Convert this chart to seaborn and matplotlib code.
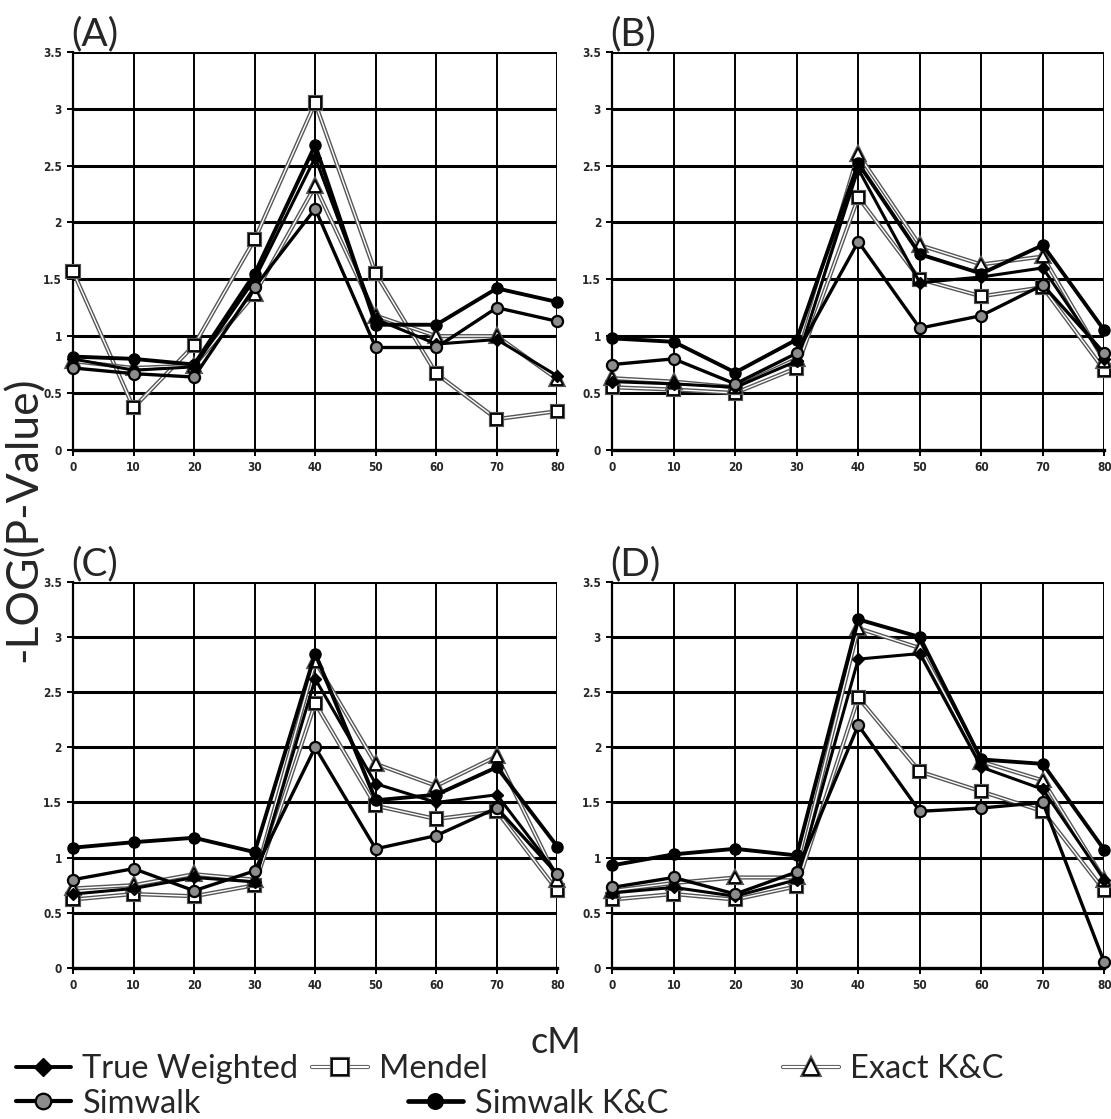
import matplotlib
matplotlib.use("Agg")
import matplotlib.pyplot as plt
import matplotlib.patheffects as pe
from matplotlib.lines import Line2D
import seaborn as sns
import pandas as pd

# Marker positions along the chromosome (cM)
cm = [0, 10, 20, 30, 40, 50, 60, 70, 80]
panels = ["(A)", "(B)", "(C)", "(D)"]

# -LOG(P-value) per method, one row per panel (A, B, C, D)
true_weighted = [
    [0.80, 0.70, 0.73, 1.50, 2.57, 1.15, 0.93, 0.97, 0.65],
    [0.60, 0.58, 0.55, 0.78, 2.47, 1.47, 1.52, 1.60, 0.80],
    [0.67, 0.72, 0.82, 0.78, 2.62, 1.67, 1.50, 1.57, 0.85],
    [0.68, 0.73, 0.65, 0.80, 2.80, 2.85, 1.82, 1.62, 0.80],
]
mendel = [
    [1.57, 0.37, 0.92, 1.85, 3.05, 1.55, 0.67, 0.27, 0.34],
    [0.55, 0.53, 0.50, 0.72, 2.22, 1.50, 1.35, 1.43, 0.70],
    [0.62, 0.67, 0.65, 0.75, 2.40, 1.47, 1.35, 1.42, 0.70],
    [0.62, 0.67, 0.62, 0.74, 2.45, 1.78, 1.60, 1.42, 0.70],
]
exact_kc = [
    [0.78, 0.72, 0.74, 1.37, 2.32, 1.18, 1.00, 1.00, 0.62],
    [0.63, 0.60, 0.55, 0.80, 2.60, 1.80, 1.63, 1.70, 0.78],
    [0.72, 0.75, 0.85, 0.80, 2.78, 1.85, 1.65, 1.92, 0.80],
    [0.70, 0.77, 0.82, 0.82, 3.08, 2.90, 1.87, 1.70, 0.80],
]
simwalk = [
    [0.72, 0.67, 0.64, 1.43, 2.12, 0.90, 0.90, 1.25, 1.13],
    [0.75, 0.80, 0.58, 0.85, 1.83, 1.07, 1.18, 1.45, 0.85],
    [0.80, 0.90, 0.70, 0.88, 2.00, 1.08, 1.20, 1.45, 0.85],
    [0.73, 0.82, 0.67, 0.87, 2.20, 1.42, 1.45, 1.50, 0.05],
]
simwalk_kc = [
    [0.82, 0.80, 0.75, 1.55, 2.68, 1.10, 1.10, 1.42, 1.30],
    [0.98, 0.95, 0.68, 0.97, 2.52, 1.72, 1.55, 1.80, 1.05],
    [1.09, 1.14, 1.18, 1.05, 2.85, 1.52, 1.57, 1.82, 1.10],
    [0.93, 1.03, 1.08, 1.02, 3.16, 3.00, 1.89, 1.85, 1.07],
]

y_ticks = [0, 0.5, 1, 1.5, 2, 2.5, 3, 3.5]
y_tick_labels = ["0", "0.5", "1", "1.5", "2", "2.5", "3", "3.5"]

sns.set_theme(style="white")
plt.rcParams["font.family"] = ["Lato", "DejaVu Sans"]

# thin double lines (grey outline, white core) and thick black lines
thin_fx = [pe.Stroke(linewidth=3.0, foreground="#555555"), pe.Normal()]
styles = {
    "True Weighted": dict(color="black", lw=2.2, marker="D", ms=6.5,
                          mfc="black", mec="black"),
    "Mendel": dict(color="white", lw=1.0, marker="s", ms=8,
                   mfc="white", mec="black", mew=1.3, path_effects=thin_fx),
    "Exact K&C": dict(color="white", lw=1.0, marker="^", ms=8.5,
                      mfc="white", mec="black", mew=1.3, path_effects=thin_fx),
    "Simwalk": dict(color="black", lw=2.4, marker="o", ms=8,
                    mfc="#8c8c8c", mec="black", mew=1.6),
    "Simwalk K&C": dict(color="black", lw=2.8, marker="o", ms=8,
                        mfc="black", mec="black"),
}
series = {
    "Mendel": mendel,
    "Exact K&C": exact_kc,
    "True Weighted": true_weighted,
    "Simwalk": simwalk,
    "Simwalk K&C": simwalk_kc,
}

fig = plt.figure(figsize=(11.11, 11.19), dpi=100)
boxes = [
    [0.0657, 0.598, 0.436, 0.3557],
    [0.551, 0.598, 0.443, 0.3557],
    [0.0657, 0.135, 0.436, 0.345],
    [0.551, 0.135, 0.443, 0.345],
]

for i, box in enumerate(boxes):
    ax = fig.add_axes(box)
    for name, values in series.items():
        st = dict(styles[name])
        fx = st.pop("path_effects", None)
        df = pd.DataFrame({"cM": cm, "val": values[i]})
        sns.lineplot(data=df, x="cM", y="val", ax=ax, color=st.pop("color"),
                     linewidth=st.pop("lw"), marker=st.pop("marker"),
                     markersize=st.pop("ms"), markerfacecolor=st.pop("mfc"),
                     markeredgecolor=st.pop("mec"),
                     markeredgewidth=st.pop("mew", 1.0),
                     path_effects=fx, clip_on=False, zorder=3, **st)
    ax.set_xlim(0, 80)
    ax.set_ylim(0, 3.5)
    ax.set_xticks(cm)
    ax.set_yticks(y_ticks)
    ax.set_yticklabels(y_tick_labels)
    ax.set_xlabel("")
    ax.set_ylabel("")
    for y in y_ticks[1:]:
        ax.axhline(y, color="black", lw=2.2, zorder=1)
    for x in cm[1:]:
        ax.axvline(x, color="black", lw=1.4, zorder=1)
    for side in ["top", "right"]:
        ax.spines[side].set_visible(False)
    ax.spines["left"].set_linewidth(1.6)
    ax.spines["bottom"].set_linewidth(2.4)
    ax.spines["left"].set_color("black")
    ax.spines["bottom"].set_color("black")
    ax.tick_params(axis="both", which="both", direction="out", length=4,
                   width=1.4, color="black", left=True, bottom=True, pad=4)
    for lab in ax.get_xticklabels() + ax.get_yticklabels():
        lab.set_fontfamily("DejaVu Sans")
        lab.set_fontstretch("condensed")
        lab.set_fontweight("bold")
        lab.set_fontsize(8.5)
    # panel letter sits just above the top-left corner of the plot area
    ax.text(-0.004, 1.0, panels[i], transform=ax.transAxes, fontsize=28,
            ha="left", va="bottom")

fig.text(0.022, 0.536, "-LOG(P-Value)", rotation=90, fontsize=32,
         ha="center", va="center")
fig.text(0.5, 0.068, "cM", fontsize=26, ha="center", va="center")


def handle_for(name):
    st = styles[name]
    return Line2D([], [], color=st["color"], lw=st["lw"] + 0.6,
                  marker=st["marker"], markersize=st["ms"] * 1.4,
                  markerfacecolor=st["mfc"], markeredgecolor=st["mec"],
                  markeredgewidth=st.get("mew", 1.0),
                  path_effects=st.get("path_effects"))


# legend entries laid out in two rows under the panels
legend_slots = [
    ("True Weighted", 0.014, 0.0445),
    ("Mendel", 0.281, 0.0445),
    ("Exact K&C", 0.705, 0.0445),
    ("Simwalk", 0.014, 0.0135),
    ("Simwalk K&C", 0.367, 0.0135),
]
for name, lx, ly in legend_slots:
    fig.legend([handle_for(name)], [name], loc="center left",
               bbox_to_anchor=(lx, ly), frameon=False, fontsize=23.5,
               handlelength=1.7, handletextpad=0.35, borderpad=0.0,
               borderaxespad=0.0)

fig.savefig("out.png", dpi=100)
